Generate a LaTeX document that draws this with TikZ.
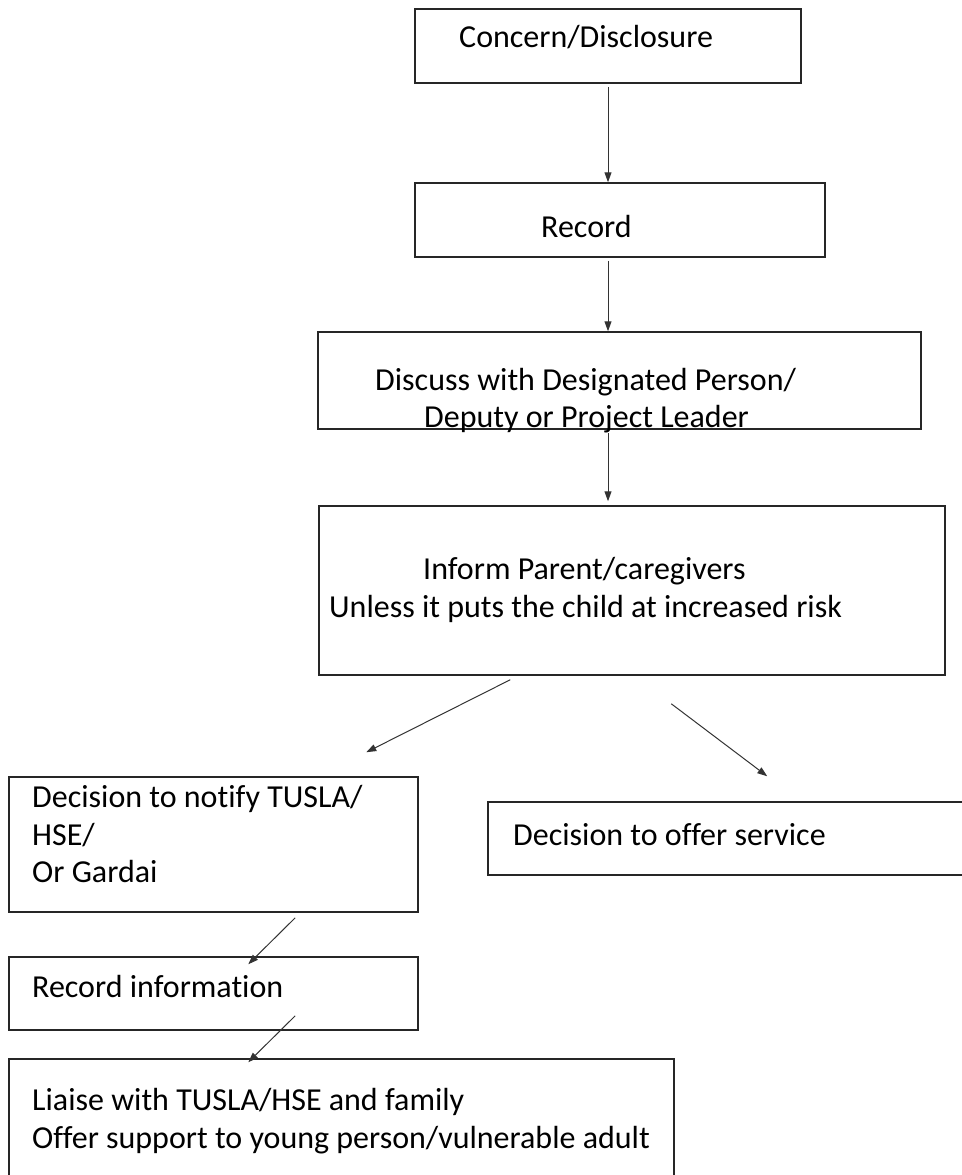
\documentclass[tikz,border=0pt]{standalone}
\usepackage{fontspec}
\setmainfont{Carlito}[Ligatures={NoCommon}]
\usetikzlibrary{arrows.meta,calc}

\tikzset{
  stepbox/.style={draw=black!85, line width=1.5pt, rectangle, inner sep=0pt},
  flow/.style={draw=black!80, line width=1pt, -{Triangle[length=10pt,width=7pt]}},
  txt/.style={anchor=base west, inner sep=0pt, font=\fontsize{32}{38}\selectfont}
}

\begin{document}
\begin{tikzpicture}[x=1pt, y=-1pt]
  \useasboundingbox (0,0) rectangle (961,1175);

  % boxes
  \node[stepbox, minimum width=386pt, minimum height=74pt] (concern) at (608,46) {};
  \node[stepbox, minimum width=410pt, minimum height=74pt] (record) at (620,220) {};
  \node[stepbox, minimum width=603pt, minimum height=97pt] (discuss) at (619.5,380.5) {};
  \node[stepbox, minimum width=626pt, minimum height=169pt] (inform) at (632,590.5) {};
  \node[stepbox, minimum width=409pt, minimum height=135pt] (notify) at (213.5,844.5) {};
  \node[stepbox, minimum width=487pt, minimum height=73pt] (offer) at (731.5,838.5) {};
  \node[stepbox, minimum width=409pt, minimum height=73pt] (recinfo) at (213.5,993.5) {};
  \node[stepbox, minimum width=665pt, minimum height=131pt] (liaise) at (341.5,1124.5) {};

  % texts
  \node[txt] (concern-t) at (459,47) {Concern/Disclosure};
  \node[txt] (record-t) at (541,237) {Record};
  \node[txt] (discuss-t1) at (375,390) {Discuss with Designated Person/};
  \node[txt] (discuss-t2) at (424,427) {Deputy or Project Leader};
  \node[txt] (inform-t1) at (423,579) {Inform Parent/caregivers};
  \node[txt] (inform-t2) at (329,617) {Unless it puts the child at increased risk};
  \node[txt] (notify-t1) at (32,807) {Decision to notify TUSLA/};
  \node[txt] (notify-t2) at (32,845) {HSE/};
  \node[txt] (notify-t3) at (32,882) {Or Gardai};
  \node[txt] (offer-t) at (513,845) {Decision to offer service};
  \node[txt] (recinfo-t) at (32,997) {Record information};
  \node[txt] (liaise-t1) at (32,1110) {Liaise with TUSLA/HSE and family};
  \node[txt] (liaise-t2) at (32,1148) {Offer support to young person/vulnerable adult};

  % arrows
  \draw[flow, shorten <=3pt] (concern.south) -- (concern.south |- record.north);
  \draw[flow, shorten <=3pt] (concern.south |- record.south) -- (concern.south |- discuss.north);
  \draw[flow, shorten <=3pt, shorten >=4pt] (concern.south |- discuss.south) -- (concern.south |- inform.north);
  \draw[flow] ($(inform.south west)+(192,4)$) -- ($(notify.north west)+(358,-24)$);
  \draw[flow] ($(inform.south west)+(353,28)$) -- ($(offer.north west)+(280,-25)$);
  \draw[flow] ($(notify.south west)+(287,5)$) -- ($(recinfo.north west)+(240,8)$);
  \draw[flow] ($(recinfo.south west)+(287,-15)$) -- ($(liaise.north west)+(240,4)$);
\end{tikzpicture}
\end{document}
